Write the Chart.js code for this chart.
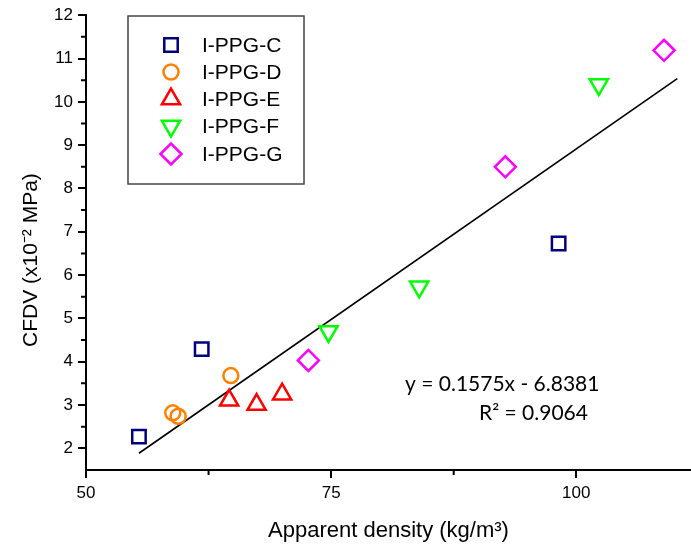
<!DOCTYPE html>
<html>
<head>
<meta charset="utf-8">
<script src="https://cdn.jsdelivr.net/npm/chart.js@4.4.1/dist/chart.umd.min.js"></script>
<style>
  html, body { margin: 0; padding: 0; background: #fff; }
</style>
</head>
<body>
<canvas id="myChart" width="691" height="547"></canvas>
<script>
// measured samples, apparent density (kg/m3) vs CFDV (x10^-2 MPa)
const series_names = ['I-PPG-C', 'I-PPG-D', 'I-PPG-E', 'I-PPG-F', 'I-PPG-G'];
const density_c = [55.4, 61.8, 98.2];
const cfdv_c = [2.27, 4.29, 6.73];
const density_d = [58.85, 59.4, 64.77];
const cfdv_d = [2.82, 2.74, 3.68];
const density_e = [64.6, 67.4, 70.0];
const cfdv_e = [3.11, 3.01, 3.25];
const density_f = [74.73, 83.98, 102.3];
const cfdv_f = [4.70, 5.73, 10.40];
const density_g = [72.68, 92.76, 108.95];
const cfdv_g = [4.03, 8.50, 11.19];

// linear fit
const fit_slope = 0.1575;
const fit_intercept = -6.8381;
const fit_r2 = 0.9064;
const fit_x = [55.4, 110.3];

const x_ticks = [50, 75, 100];
const x_minor = [62.5, 87.5];
const y_ticks = [2, 3, 4, 5, 6, 7, 8, 9, 10, 11, 12];
const y_minor = [2.5, 3.5, 4.5, 5.5, 6.5, 7.5, 8.5, 9.5, 10.5, 11.5];

const colors = ['#000080', '#ff8000', '#ff0000', '#00ff00', '#ff00ff'];
const styles = [
	{ pointStyle: 'rect', radius: 9.5, rotation: 0 },
	{ pointStyle: 'circle', radius: 7.5, rotation: 0 },
	{ pointStyle: 'triangle', radius: 10.5, rotation: 0 },
	{ pointStyle: 'triangle', radius: 10.5, rotation: 180 },
	{ pointStyle: 'rectRot', radius: 10.5, rotation: 0 }
];

const xs = [density_c, density_d, density_e, density_f, density_g];
const ys = [cfdv_c, cfdv_d, cfdv_e, cfdv_f, cfdv_g];

const pair = (a, b) => a.map((v, i) => ({ x: v, y: b[i] }));

Chart.defaults.font.family = "'Liberation Sans', Arial, sans-serif";
Chart.defaults.font.size = 17;
Chart.defaults.color = '#000';

const scatter_sets = series_names.map((name, i) => ({
	type: 'scatter',
	label: name,
	data: pair(xs[i], ys[i]),
	pointStyle: styles[i].pointStyle,
	pointRadius: styles[i].radius,
	pointRotation: styles[i].rotation,
	pointBorderColor: colors[i],
	pointBackgroundColor: 'rgba(0,0,0,0)',
	pointBorderWidth: 2.5,
	pointHoverRadius: styles[i].radius,
	clip: false,
	order: 1
}));

const fit_set = {
	type: 'line',
	label: 'fit',
	data: fit_x.map(x => ({ x: x, y: fit_slope * x + fit_intercept })),
	borderColor: '#000',
	borderWidth: 1.6,
	pointRadius: 0,
	fill: false,
	order: 2
};

// short minor ticks on both axes
const minorTicks = {
	id: 'minorTicks',
	afterDraw(chart) {
		const ctx = chart.ctx;
		const sx = chart.scales.x, sy = chart.scales.y;
		ctx.save();
		ctx.strokeStyle = '#000';
		ctx.lineWidth = 2;
		ctx.beginPath();
		x_minor.forEach(v => {
			const px = sx.getPixelForValue(v);
			ctx.moveTo(px, sx.top);
			ctx.lineTo(px, sx.top + 5);
		});
		y_minor.forEach(v => {
			const py = sy.getPixelForValue(v);
			ctx.moveTo(sy.right, py);
			ctx.lineTo(sy.right - 5, py);
		});
		ctx.stroke();
		ctx.restore();
	}
};

// framed legend inside the plot
const boxLegend = {
	id: 'boxLegend',
	afterDraw(chart) {
		const ctx = chart.ctx;
		ctx.save();
		ctx.strokeStyle = '#444';
		ctx.lineWidth = 1.5;
		ctx.strokeRect(128, 16, 176, 168);
		const rows = [45, 72, 99, 126, 154];
		series_names.forEach((name, i) => {
			ctx.strokeStyle = colors[i];
			ctx.fillStyle = 'rgba(0,0,0,0)';
			ctx.lineWidth = 2.5;
			Chart.helpers.drawPoint(ctx, {
				pointStyle: styles[i].pointStyle,
				radius: styles[i].radius,
				rotation: styles[i].rotation,
				borderWidth: 2.5
			}, 171, rows[i]);
			ctx.fillStyle = '#000';
			ctx.font = "21px 'Liberation Sans', Arial, sans-serif";
			ctx.textBaseline = 'middle';
			ctx.textAlign = 'left';
			ctx.fillText(name, 202, rows[i] + 1);
		});
		ctx.restore();
	}
};

// regression equation
const fitLabel = {
	id: 'fitLabel',
	afterDraw(chart) {
		const ctx = chart.ctx;
		ctx.save();
		ctx.fillStyle = '#000';
		ctx.font = "21px Lato, 'Open Sans', sans-serif";
		ctx.textBaseline = 'middle';
		ctx.textAlign = 'left';
		const sign = fit_intercept < 0 ? ' - ' : ' + ';
		ctx.fillText('y = ' + fit_slope.toFixed(4) + 'x' + sign + Math.abs(fit_intercept).toFixed(4), 405, 384);
		ctx.fillText('R\u00B2 = ' + fit_r2.toFixed(4), 479, 413);
		ctx.restore();
	}
};

var ctx = document.getElementById('myChart').getContext('2d');
var myChart = new Chart(ctx, {
	data: {
		datasets: [fit_set].concat(scatter_sets)
	},
	options: {
		responsive: false,
		animation: false,
		layout: { autoPadding: false, padding: { top: 15, right: 0, left: 0, bottom: 0 } },
		plugins: {
			legend: { display: false },
			tooltip: { enabled: false }
		},
		scales: {
			x: {
				type: 'linear',
				min: 50,
				max: 111.7,
				afterBuildTicks: scale => { scale.ticks = x_ticks.map(v => ({ value: v })); },
				afterFit: scale => { scale.height = 77; },
				border: { color: '#000', width: 2 },
				grid: { drawOnChartArea: false, tickLength: 8, color: '#000', lineWidth: 2 },
				ticks: { padding: 5, maxRotation: 0, font: { size: 17 } },
				title: {
					display: true,
					text: 'Apparent density (kg/m\u00B3)',
					font: { size: 22 },
					padding: { top: 0, bottom: 3 }
				}
			},
			y: {
				type: 'linear',
				min: 1.5,
				max: 12,
				afterBuildTicks: scale => { scale.ticks = y_ticks.map(v => ({ value: v })); },
				afterFit: scale => { scale.width = 86; },
				border: { color: '#000', width: 2 },
				grid: { drawOnChartArea: false, tickLength: 8, color: '#000', lineWidth: 2 },
				ticks: { padding: 5, font: { size: 17 } },
				title: {
					display: true,
					text: 'CFDV (x10\u207B\u00B2 MPa)\u00A0\u00A0\u00A0\u00A0\u00A0\u00A0',
					font: { size: 21 },
					padding: { top: 19, bottom: 0 }
				}
			}
		}
	},
	plugins: [minorTicks, boxLegend, fitLabel]
});
</script>
</body>
</html>
